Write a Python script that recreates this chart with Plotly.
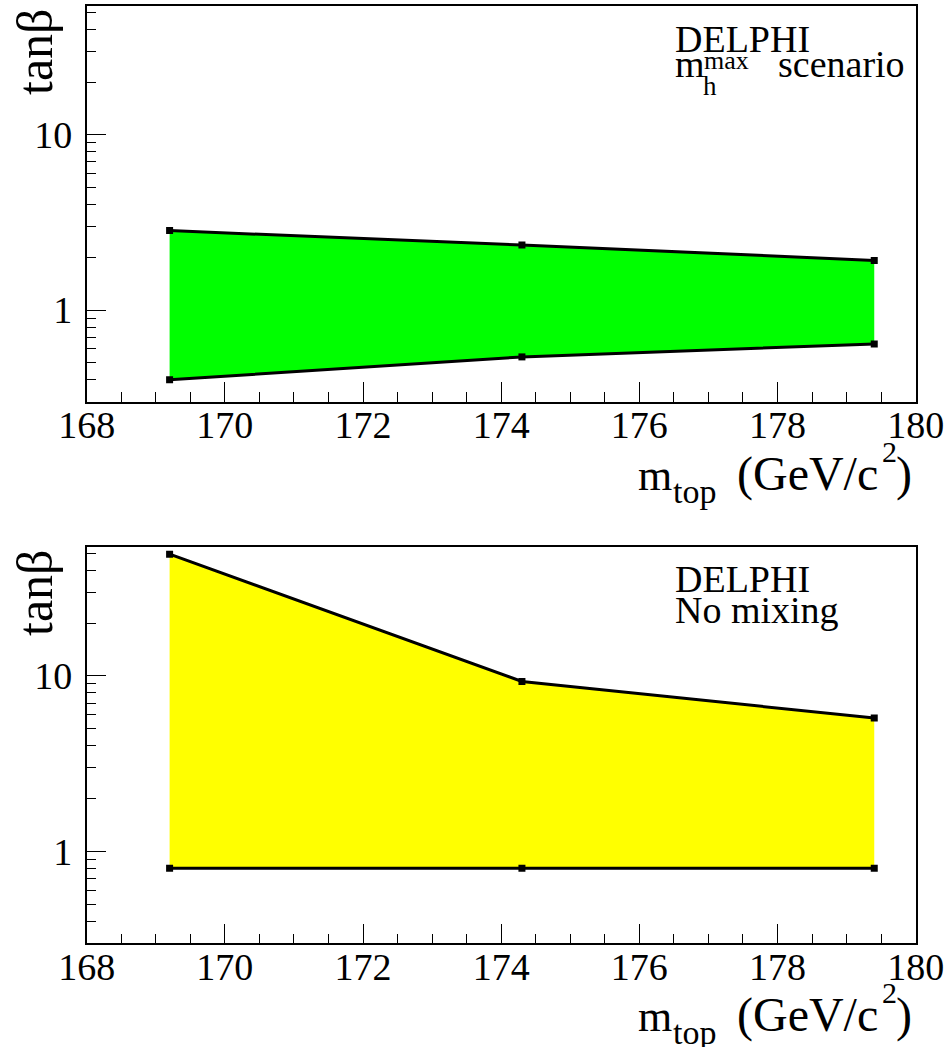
import plotly.graph_objects as go

# ---------------- data ----------------
mtop = [169.2, 174.3, 179.4]
mhmax_upper = [2.84, 2.35, 1.92]
mhmax_lower = [0.40, 0.54, 0.64]
nomix_upper = [49.5, 9.3, 5.75]
nomix_lower = [0.80, 0.80, 0.80]

x_ticks = [168, 170, 172, 174, 176, 178, 180]
x_tick_labels = ["168", "170", "172", "174", "176", "178", "180"]
x_minor = [168.5, 169, 169.5, 170.5, 171, 171.5, 172.5, 173, 173.5, 174.5, 175, 175.5,
           176.5, 177, 177.5, 178.5, 179, 179.5]
y_ticks = [1, 10]
y_tick_labels = ["1", "10"]
y_minor = [0.3, 0.4, 0.5, 0.6, 0.7, 0.8, 0.9, 2, 3, 4, 5, 6, 7, 8, 9, 20, 30, 40, 50]

W, H = 951, 1047
FONT = "Liberation Serif, Times New Roman, serif"
ASC_SHIFT = 0.3375  # (ascent - descent)/2 for Liberation Serif, in em


def px_x(p):
    return p / W


def px_y(p):
    return 1 - p / H


fig = go.Figure()

panels = [
    (mhmax_upper, mhmax_lower, "#00ff00", "x", "y"),
    (nomix_upper, nomix_lower, "#ffff00", "x2", "y2"),
]
for up, lo, col, xa, ya in panels:
    fig.add_trace(go.Scatter(
        x=mtop + mtop[::-1], y=up + lo[::-1], fill="toself", fillcolor=col,
        mode="lines", line=dict(width=0, color=col), hoverinfo="skip",
        xaxis=xa, yaxis=ya))
    for series in (up, lo):
        fig.add_trace(go.Scatter(
            x=mtop, y=series, mode="lines+markers",
            line=dict(color="black", width=3),
            marker=dict(symbol="square", size=7, color="black"),
            xaxis=xa, yaxis=ya))

xdom = [86.7 / W, 915.7 / W]
ydom_top = [px_y(402), px_y(5.7)]
ydom_bot = [px_y(943.3), px_y(546.7)]


def xaxis(anchor):
    return dict(
        domain=xdom, anchor=anchor, range=[168, 180], automargin=False,
        tickmode="array", tickvals=x_ticks, ticktext=x_tick_labels,
        ticks="inside", ticklen=20, tickwidth=1, tickcolor="black",
        showline=True, linecolor="black", linewidth=1.5, mirror=True,
        showgrid=False, zeroline=False, ticklabelstandoff=-11,
        tickfont=dict(family=FONT, size=38, color="black"),
        minor=dict(tickmode="array", tickvals=x_minor, ticks="inside",
                   ticklen=10, tickwidth=1, tickcolor="black", showgrid=False),
    )


def yaxis(anchor, dom):
    return dict(
        domain=dom, anchor=anchor, type="log", range=[-0.525, 1.737], automargin=False,
        tickmode="array", tickvals=y_ticks, ticktext=y_tick_labels,
        ticks="inside", ticklen=20, tickwidth=1, tickcolor="black",
        showline=True, linecolor="black", linewidth=1.5, mirror=True,
        showgrid=False, zeroline=False, ticklabelstandoff=5,
        tickfont=dict(family=FONT, size=38, color="black"),
        minor=dict(tickmode="array", tickvals=y_minor, ticks="inside",
                   ticklen=10, tickwidth=1, tickcolor="black", showgrid=False),
    )


annotations = []


def ann(text, x, baseline, size, xanchor="left"):
    """Place a text piece by its left/right x and its baseline y (pixels)."""
    center = baseline - ASC_SHIFT * size
    annotations.append(dict(
        text=text, x=px_x(x), y=px_y(center), xref="paper", yref="paper",
        xanchor=xanchor, yanchor="middle", showarrow=False,
        borderpad=0, font=dict(family=FONT, size=size, color="black")))


for off in (0, 541):
    # y-axis title (rotated)
    annotations.append(dict(
        text="tanβ", x=px_x(35), y=px_y(52 + off), xref="paper", yref="paper",
        xanchor="center", yanchor="middle", showarrow=False, textangle=-90,
        borderpad=0, font=dict(family=FONT, size=50, color="black")))
    # x-axis title pieces: m_top (GeV/c^2)
    ann("m", 637, 490 + off, 44)
    ann("top", 672, 503 + off, 34)
    ann("(GeV/c", 736, 490 + off, 48)
    ann("2", 881, 462 + off, 30)
    ann(")", 913, 490 + off, 48, xanchor="right")

# top panel label
ann("DELPHI", 674, 52, 38)
ann("m", 674, 77, 38)
ann("h", 702, 95, 27)
ann("max", 703, 69, 26)
ann("scenario", 906, 77, 38, xanchor="right")
# bottom panel label
ann("DELPHI", 674, 592, 38)
ann("No mixing", 674, 623, 38)

fig.update_layout(
    width=W, height=H, margin=dict(l=0, r=0, t=0, b=0, autoexpand=False),
    paper_bgcolor="white", plot_bgcolor="white", showlegend=False,
    font=dict(family=FONT, color="black"),
    xaxis=xaxis("y"), yaxis=yaxis("x", ydom_top),
    xaxis2=xaxis("y2"), yaxis2=yaxis("x2", ydom_bot),
    annotations=annotations,
)

fig.write_html("out.html")
